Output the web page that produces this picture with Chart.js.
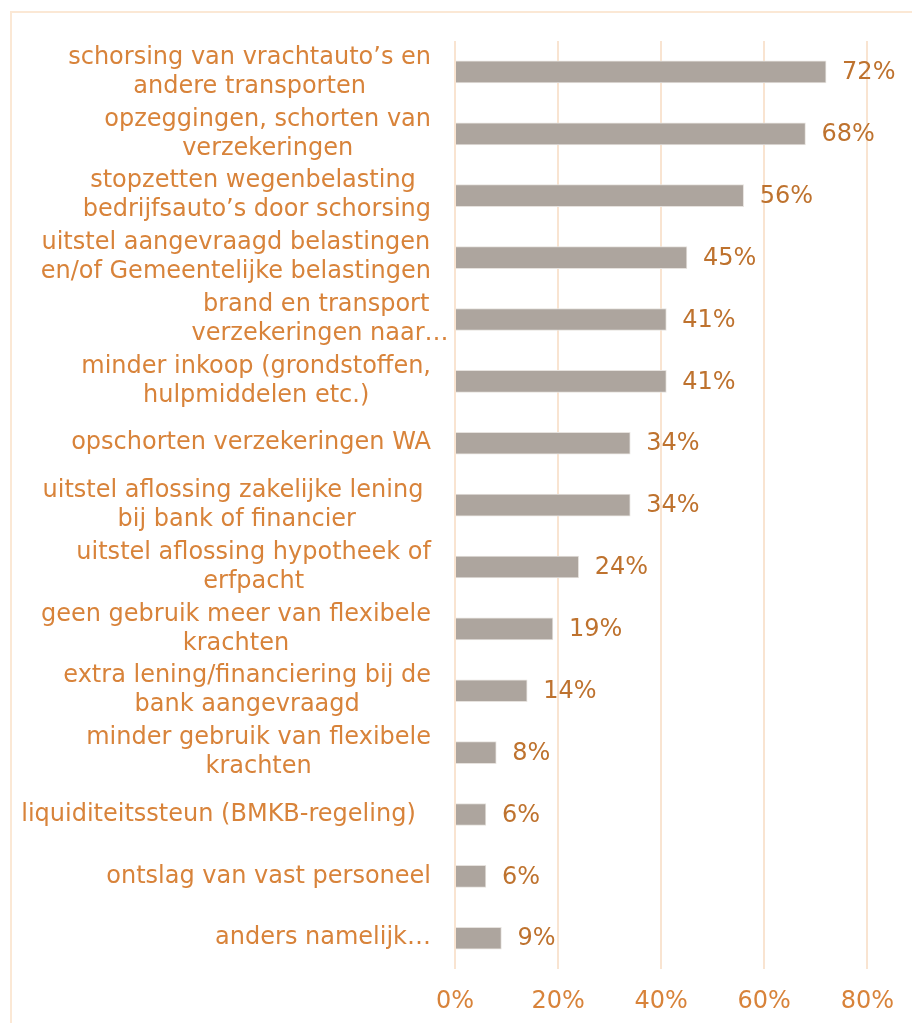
<!DOCTYPE html>
<html>
<head>
<meta charset="utf-8">
<script src="https://cdn.jsdelivr.net/npm/chart.js@4.4.1/dist/chart.umd.min.js"></script>
<style>
  html, body { margin: 0; padding: 0; background: #fff; }
  #wrap { position: relative; width: 912px; height: 1023px; overflow: hidden; }
  #frame { position: absolute; left: 10px; top: 11px; width: 1000px; height: 1100px;
           border-top: 2px solid #FBE8D5; border-left: 2px solid #FBE8D5; }
  canvas { position: absolute; left: 0; top: 0; }
</style>
</head>
<body>
<div id="wrap">
  <div id="frame"></div>
  <canvas id="c" width="912" height="1042"></canvas>
</div>
<script>
'use strict';

// ── Data ─────────────────────────────────────────────────────────────────────
const labels = [
  ['schorsing van vrachtauto’s en', 'andere transporten'],
  ['opzeggingen, schorten van', 'verzekeringen'],
  ['stopzetten wegenbelasting ', 'bedrijfsauto’s door schorsing'],
  ['uitstel aangevraagd belastingen', 'en/of Gemeentelijke belastingen'],
  ['brand en transport ', 'verzekeringen naar…'],
  ['minder inkoop (grondstoffen,', 'hulpmiddelen etc.)'],
  ['opschorten verzekeringen WA'],
  ['uitstel aflossing zakelijke lening ', 'bij bank of financier'],
  ['uitstel aflossing hypotheek of', 'erfpacht'],
  ['geen gebruik meer van flexibele', 'krachten'],
  ['extra lening/financiering bij de', 'bank aangevraagd'],
  ['minder gebruik van flexibele', 'krachten'],
  ['liquiditeitssteun (BMKB-regeling)  '],
  ['ontslag van vast personeel'],
  ['anders namelijk…']
];
const values = [72, 68, 56, 45, 41, 41, 34, 34, 24, 19, 14, 8, 6, 6, 9];
const xTicks = [0, 20, 40, 60, 80];

// ── Style ────────────────────────────────────────────────────────────────────
const FONT = '"DejaVu Sans", Verdana, sans-serif';
const LABEL_COLOR = '#D8833A';
const VALUE_COLOR = '#BE722E';
const BAR_COLOR = '#ADA59E';
const GRID_COLOR = '#F9E4D1';

// category labels: lines centred on each other, block right-aligned
const catLabels = {
  id: 'catLabels',
  afterDraw(chart) {
    const { ctx, scales: { y }, chartArea } = chart;
    const right = chartArea.left - 24;
    ctx.save();
    ctx.font = '24px ' + FONT;
    ctx.fillStyle = LABEL_COLOR;
    ctx.textBaseline = 'middle';
    ctx.textAlign = 'center';
    labels.forEach((lines, i) => {
      const yc = y.getPixelForValue(i);
      const multi = lines.length > 1;
      // truncated lines (…) may run past the right edge, like Excel does
      const w = Math.max(...lines.map(l => ctx.measureText(multi ? l.replace(/…$/, '') : l).width));
      const cx = right - w / 2 + (lines.some(l => /…$/.test(l)) && multi ? 6 : 0);
      const lh = 29;
      lines.forEach((l, j) => {
        const ly = yc + (j - (lines.length - 1) / 2) * lh;
        ctx.fillText(l, cx, ly);
      });
    });
    ctx.restore();
  }
};

// value labels to the right of each bar
const valueLabels = {
  id: 'valueLabels',
  afterDatasetsDraw(chart) {
    const { ctx } = chart;
    const meta = chart.getDatasetMeta(0);
    ctx.save();
    ctx.font = '24px ' + FONT;
    ctx.fillStyle = VALUE_COLOR;
    ctx.textBaseline = 'middle';
    ctx.textAlign = 'left';
    meta.data.forEach((bar, i) => {
      ctx.fillText(Math.round(values[i]) + '%', bar.x + 16, bar.y + 1);
    });
    ctx.restore();
  }
};

new Chart(document.getElementById('c'), {
  type: 'bar',
  data: {
    labels: labels,
    datasets: [{
      data: values,
      backgroundColor: BAR_COLOR,
      borderColor: '#E6E2DE',
      borderWidth: 1,
      barThickness: 22
    }]
  },
  options: {
    indexAxis: 'y',
    responsive: false,
    animation: false,
    layout: { padding: { left: 455, right: 44, top: 41, bottom: 8 } },
    plugins: { legend: { display: false }, tooltip: { enabled: false } },
    scales: {
      x: {
        min: 0, max: 80,
        afterBuildTicks: s => { s.ticks = xTicks.map(v => ({ value: v })); },
        grid: { color: GRID_COLOR, lineWidth: 2, drawTicks: false },
        border: { display: false },
        ticks: {
          padding: 18,
          color: LABEL_COLOR,
          font: { family: FONT, size: 24 },
          callback: v => v + '%'
        }
      },
      y: {
        display: false,
        grid: { display: false }
      }
    }
  },
  plugins: [catLabels, valueLabels]
});
</script>
</body>
</html>
